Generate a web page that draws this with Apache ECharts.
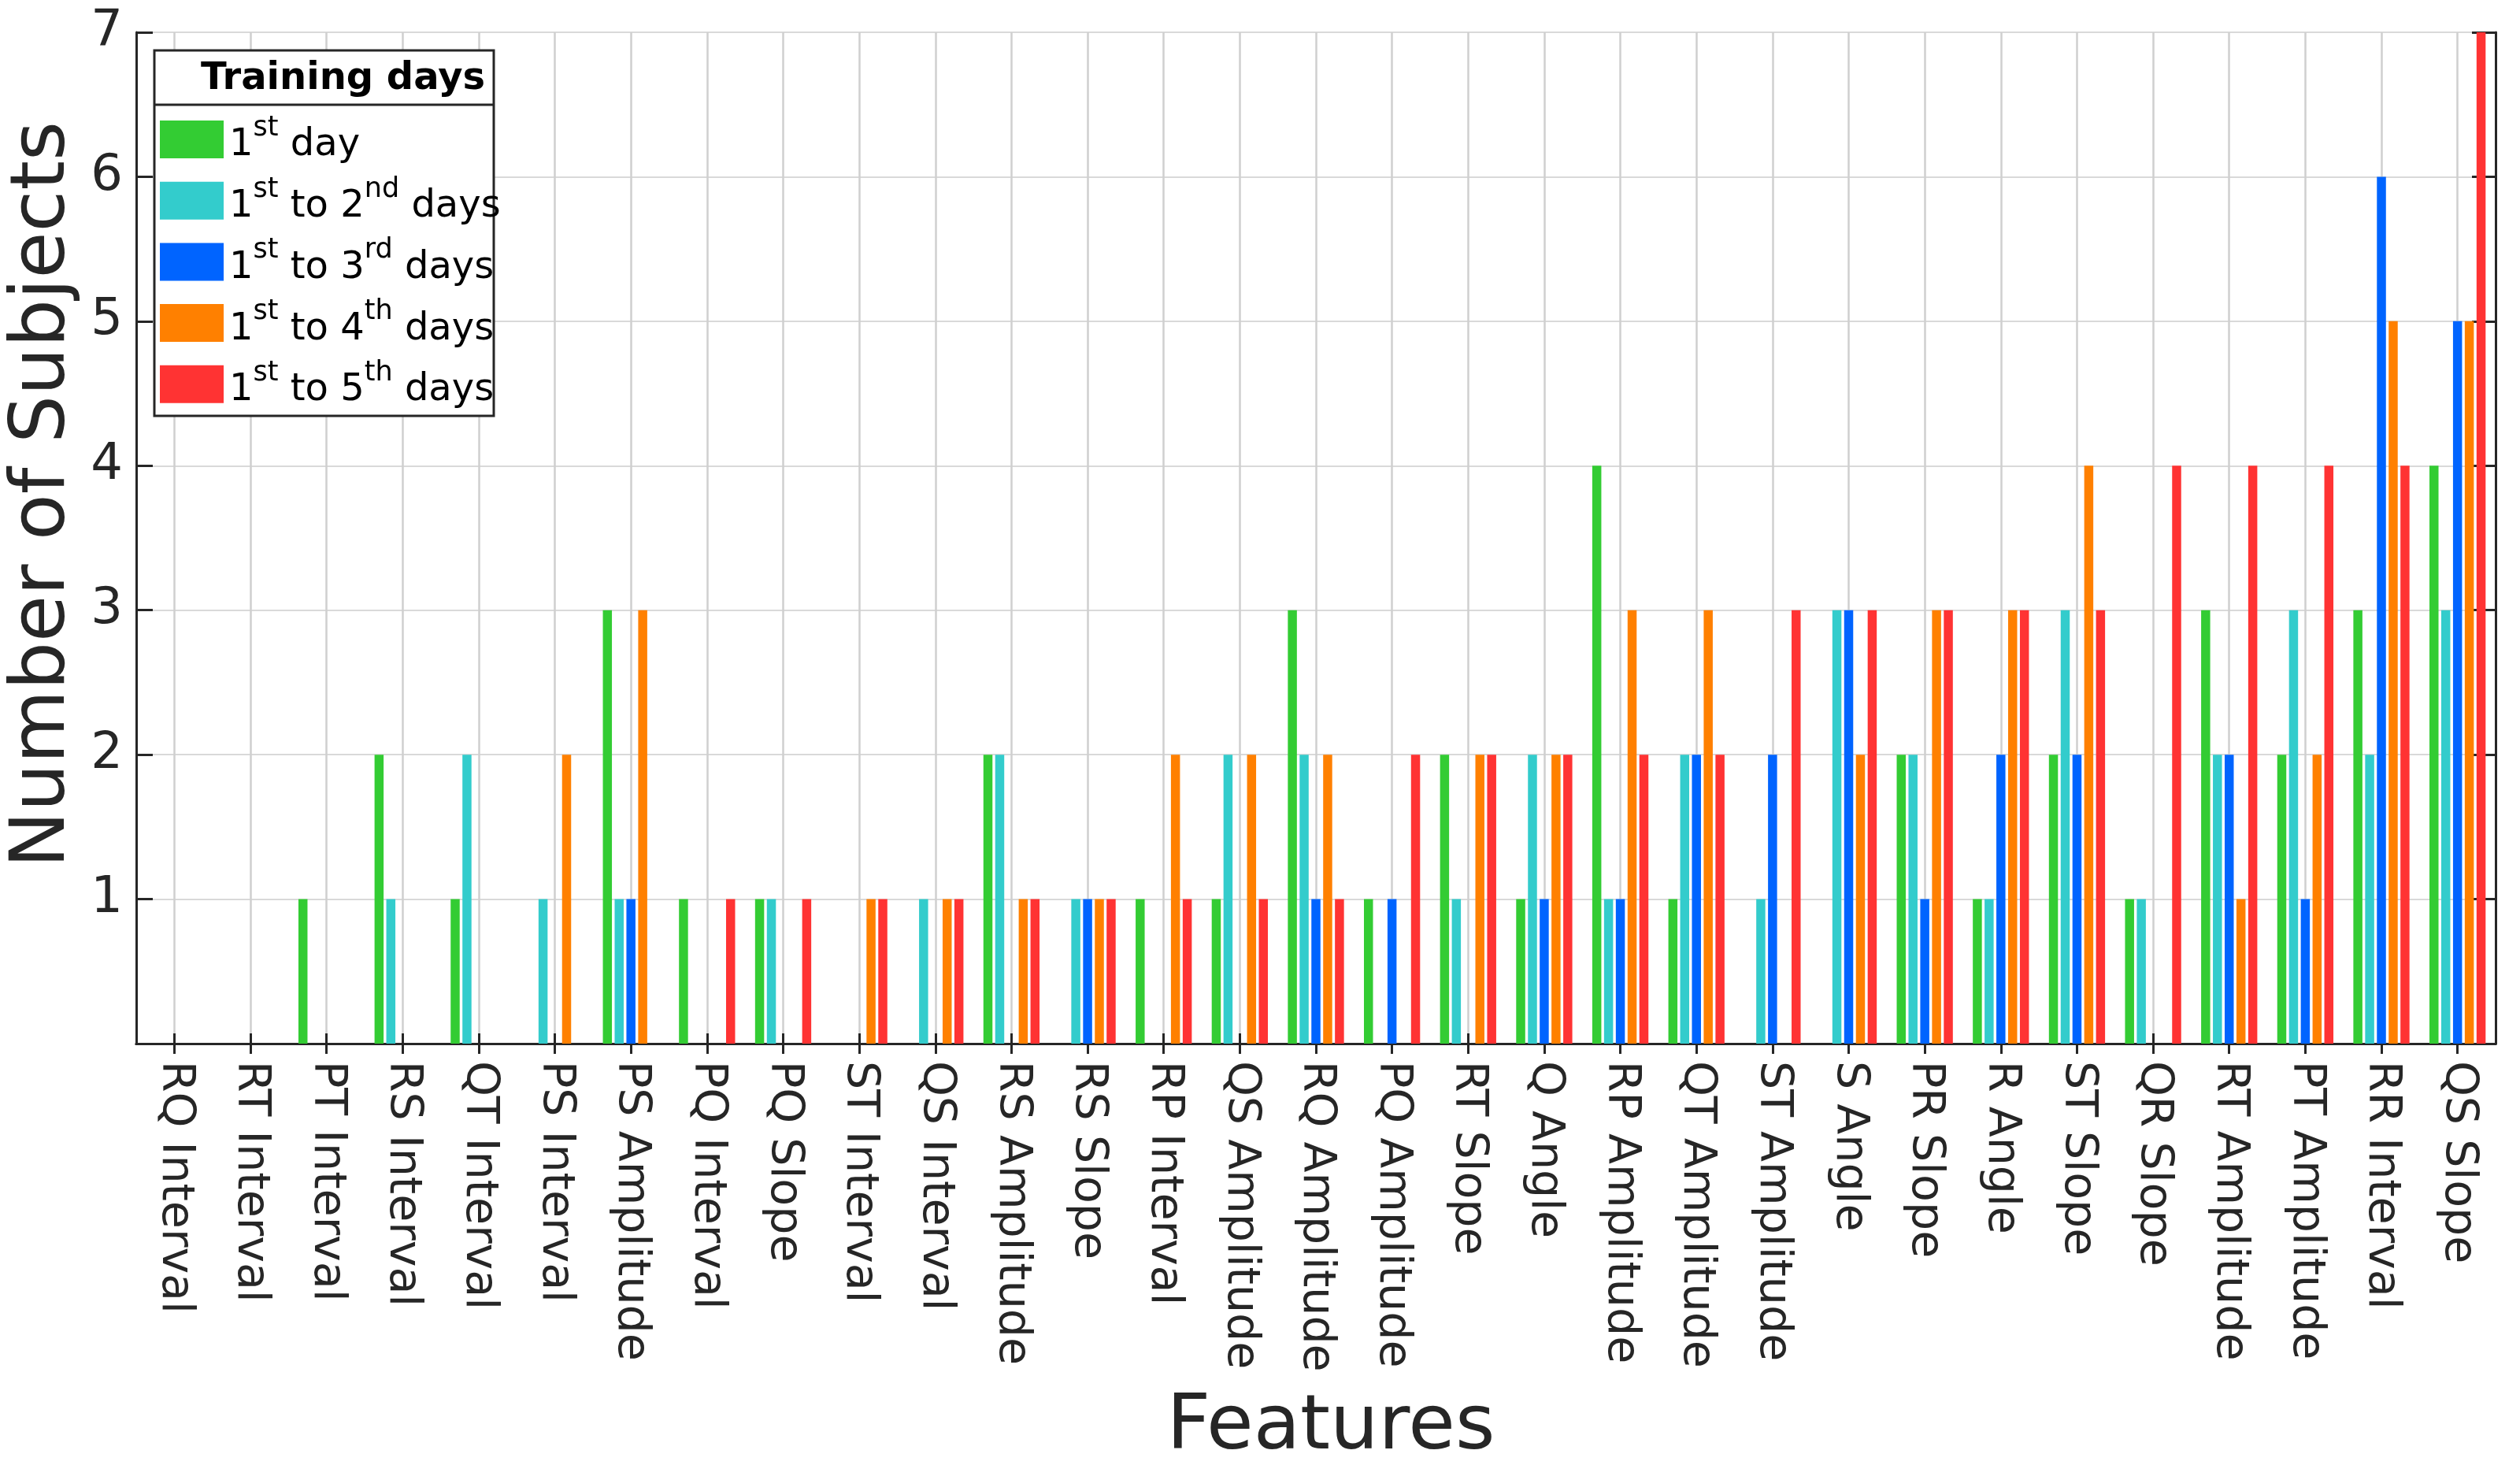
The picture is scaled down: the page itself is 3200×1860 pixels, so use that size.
<!DOCTYPE html>
<html><head><meta charset="utf-8">
<script src="https://cdn.jsdelivr.net/npm/echarts@6/dist/echarts.min.js"></script>
<style>html,body{margin:0;padding:0;background:#fff}#c{width:3200px;height:1860px}</style>
</head><body><div id="c"></div>
<script>
const categories = ['RQ Interval','RT Interval','PT Interval','RS Interval','QT Interval','PS Interval','PS Amplitude','PQ Interval','PQ Slope','ST Interval','QS Interval','RS Amplitude','RS Slope','RP Interval','QS Amplitude','RQ Amplitude','PQ Amplitude','RT Slope','Q Angle','RP Amplitude','QT Amplitude','ST Amplitude','S Angle','PR Slope','R Angle','ST Slope','QR Slope','RT Amplitude','PT Amplitude','RR Interval','QS Slope'];
const seriesNames = ['1st day','1st to 2nd days','1st to 3rd days','1st to 4th days','1st to 5th days'];
const day1   = [0,0,1,2,1,0,3,1,1,0,0,2,0,1,1,3,1,2,1,4,1,0,0,2,1,2,1,3,2,3,4];
const days12 = [0,0,0,1,2,1,1,0,1,0,1,2,1,0,2,2,0,1,2,1,2,1,3,2,1,3,1,2,3,2,3];
const days13 = [0,0,0,0,0,0,1,0,0,0,0,0,1,0,0,1,1,0,1,1,2,2,3,1,2,2,0,2,1,6,5];
const days14 = [0,0,0,0,0,2,3,0,0,1,1,1,1,2,2,2,0,2,2,3,3,0,2,3,3,4,0,1,2,5,5];
const days15 = [0,0,0,0,0,0,0,1,1,1,1,1,1,1,1,1,2,2,2,2,2,3,3,3,3,3,4,4,4,4,7];
const yTickLabels = ['','1','2','3','4','5','6','7'];
const legendTitle = 'Training days';
const xTitle = 'Features';
const yTitle = 'Number of Subjects';

const colors = ['#33CC33','#33CCCC','#0064FF','#FF8000','#FF3333'];
const allData = [day1, days12, days13, days14, days15];
const FONT = 'DejaVu Sans';
const dark = '#262626';

function supFormat(name) {
  // split "1st to 2nd days" into normal and superscript tokens
  const parts = name.split(/(\d)(st|nd|rd|th)/);
  let out = '';
  for (let i = 0; i < parts.length; i++) {
    const p = parts[i];
    if (!p) continue;
    if (/^(st|nd|rd|th)$/.test(p) && i > 0 && /^\d$/.test(parts[i - 1])) out += '{sup|' + p + '}';
    else out += '{n|' + p + '}';
  }
  return out;
}

const chart = echarts.init(document.getElementById('c'), null, {renderer: 'canvas'});
const xAxisBase = {
  type: 'category', data: categories, boundaryGap: true,
  axisLine: {show: true, lineStyle: {color: dark, width: 3}},
  axisTick: {show: true, inside: true, length: 13, alignWithLabel: true, interval: 0, lineStyle: {color: dark, width: 3}}
};
const yAxisBase = {
  type: 'value', min: 0, max: 7, interval: 1,
  axisLine: {show: true, lineStyle: {color: dark, width: 3}}
};
chart.setOption({
  animation: false,
  backgroundColor: '#fff',
  textStyle: {fontFamily: FONT},
  grid: {left: 173, right: 31, top: 41, bottom: 535, containLabel: false, outerBoundsMode: 'none'},
  xAxis: [
    Object.assign({}, xAxisBase, {
      position: 'bottom',
      axisLabel: {show: true, interval: 0, rotate: -90, fontSize: 57, color: dark, margin: 22, fontFamily: FONT},
      splitLine: {show: true, interval: 0, alignWithLabel: true, lineStyle: {color: '#cfcfcf', width: 2.5}},
      name: xTitle, nameLocation: 'middle', nameGap: 440,
      nameTextStyle: {fontSize: 97, color: dark, fontFamily: FONT, padding: [0,0,0,38]}
    }),
    Object.assign({}, xAxisBase, {
      position: 'top',
      axisLabel: {show: false},
      splitLine: {show: false}
    })
  ],
  yAxis: [
    Object.assign({}, yAxisBase, {
      position: 'left',
      axisTick: {show: true, inside: true, length: 21, lineStyle: {color: dark, width: 3}},
      axisLabel: {show: true, fontSize: 64, color: dark, margin: 17, fontFamily: FONT,
        formatter: v => yTickLabels[Math.round(v)]},
      splitLine: {show: true, lineStyle: {color: '#d9d9d9', width: 2}},
      name: yTitle, nameLocation: 'middle', nameGap: 52, nameRotate: 90,
      nameTextStyle: {fontSize: 96, color: dark, fontFamily: FONT, padding: [0,0,0,110]}
    }),
    Object.assign({}, yAxisBase, {
      position: 'right',
      axisTick: {show: true, inside: true, length: 30, lineStyle: {color: dark, width: 3}},
      axisLabel: {show: false},
      splitLine: {show: false}
    })
  ],
  legend: {
    orient: 'vertical', left: 203, top: 145, z: 10, padding: 0,
    itemWidth: 81, itemHeight: 48, itemGap: 13.7,
    icon: 'rect',
    data: seriesNames,
    formatter: supFormat,
    textStyle: {
      fontSize: 48, lineHeight: 48, color: '#000', fontFamily: FONT, padding: [16,0,0,2],
      rich: {
        n: {fontSize: 48, lineHeight: 48, fontFamily: FONT, color: '#000', verticalAlign: 'middle'},
        sup: {fontSize: 35, fontFamily: FONT, color: '#000', verticalAlign: 'top', height: 4, lineHeight: 4}
      }
    }
  },
  graphic: [
    {type: 'rect', z: 8, shape: {x: 196, y: 64, width: 431, height: 464},
     style: {fill: '#fff', stroke: dark, lineWidth: 3}},
    {type: 'line', z: 9, shape: {x1: 196, y1: 133, x2: 627, y2: 133},
     style: {stroke: dark, lineWidth: 3}},
    {type: 'text', z: 9, x: 616, y: 101,
     style: {text: legendTitle, font: 'bold 48px "DejaVu Sans"', fill: '#000', textAlign: 'right', textVerticalAlign: 'middle', verticalAlign: 'middle'}}
  ],
  series: seriesNames.map((name, i) => ({
    name, type: 'bar', xAxisIndex: 0, yAxisIndex: 0,
    data: allData[i], barWidth: 11.5, barGap: '30%',
    itemStyle: {color: colors[i]}
  }))
});
</script>
</body></html>
